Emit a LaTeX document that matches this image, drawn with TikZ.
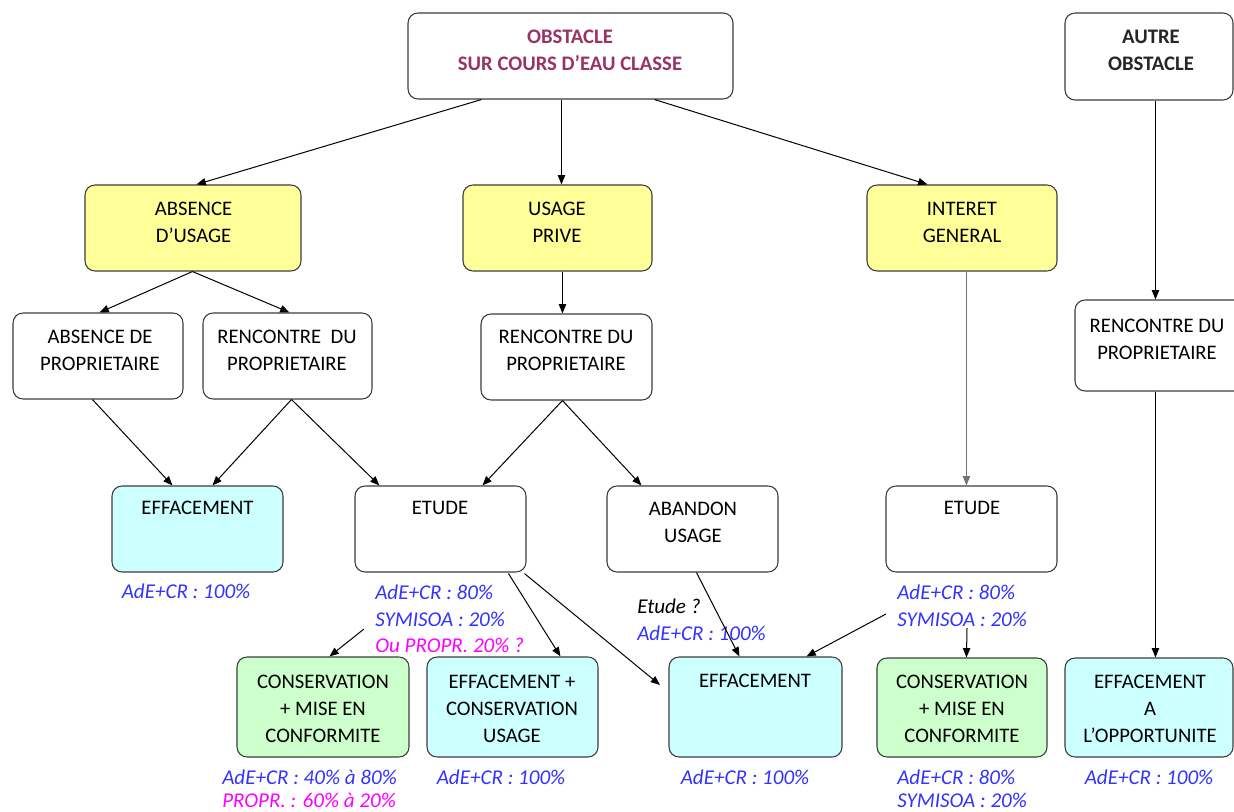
\documentclass[tikz,border=0pt]{standalone}
\usepackage{fontspec}
\setmainfont{Carlito}
\usetikzlibrary{arrows.meta,fit,calc}
\definecolor{yel}{RGB}{255,255,153}
\definecolor{cya}{RGB}{204,255,255}
\definecolor{gre}{RGB}{204,255,204}
\definecolor{purp}{RGB}{153,51,102}
\definecolor{lblue}{RGB}{51,51,255}
\definecolor{mag}{RGB}{255,0,255}
\definecolor{edge}{RGB}{60,60,60}
\newcommand\mybox[6]{\node[box,#6,fit={(#2,#3) (#4,#5)}] (#1) {};}
\begin{document}
\begin{tikzpicture}[x=0.75pt,y=-0.75pt,
  box/.style={draw=edge,line width=0.8pt,rounded corners=7.5pt,inner sep=0pt,minimum size=0pt},
  txt/.style={font=\fontsize{15.5}{20.3}\selectfont,align=center,inner sep=0pt,text=black},
  ttl/.style={txt,font=\fontsize{15.5}{20.3}\selectfont\bfseries},
  lbl/.style={font=\fontsize{15.8}{20.3}\selectfont\itshape,inner sep=0pt,text=lblue},
  arr/.style={draw=black,line width=0.75pt,-{Triangle[length=7pt,width=5.5pt]}}]
\useasboundingbox (0,0) rectangle (1234,812);
% boxes
\mybox{obs}{408}{13}{733}{99}{fill=white}
\mybox{autre}{1065}{13}{1233}{100}{fill=white}
\mybox{absu}{85}{185}{301}{271}{fill=yel}
\mybox{usp}{463}{185}{652}{271}{fill=yel}
\mybox{ig}{867}{185}{1057}{271}{fill=yel}
\mybox{absp}{13}{313}{183}{399}{fill=white}
\mybox{renl}{203}{313}{372}{399}{fill=white}
\mybox{renm}{481}{314}{652}{400}{fill=white}
\mybox{renr}{1075}{300}{1244}{391}{fill=white}
\mybox{effl}{112}{486}{283}{572}{fill=cya}
\mybox{etl}{355}{486}{526}{572}{fill=white}
\mybox{aband}{607}{486}{778}{572}{fill=white}
\mybox{etr}{886}{486}{1057}{572}{fill=white}
\mybox{consl}{237}{657}{409}{757}{fill=gre}
\mybox{effc}{427}{657}{598}{757}{fill=cya}
\mybox{effm}{669}{657}{842}{757}{fill=cya}
\mybox{consr}{877}{658}{1047}{757}{fill=gre}
\mybox{effo}{1065}{658}{1233}{757}{fill=cya}
% texts
\node[ttl,text=purp] (obst) at (570,50.5) {OBSTACLE\\SUR COURS D’EAU CLASSE};
\node[ttl,text=black!85] (autret) at (1151,50) {AUTRE\\OBSTACLE};
\node[txt] (absut) at (193.5,222) {ABSENCE\\D’USAGE};
\node[txt] (uspt) at (557,222) {USAGE\\PRIVE};
\node[txt] (igt) at (962,222) {INTERET\\GENERAL};
\node[txt] (abspt) at (100,350.5) {ABSENCE DE\\PROPRIETAIRE};
\node[txt] (renlt) at (287,350.5) {RENCONTRE~~DU\\PROPRIETAIRE};
\node[txt] (renmt) at (566,350.5) {RENCONTRE DU\\PROPRIETAIRE};
\node[txt] (renrt) at (1157,339) {RENCONTRE DU\\PROPRIETAIRE};
\node[txt] (efflt) at (197.5,508) {EFFACEMENT};
\node[txt] (etlt) at (440,508) {ETUDE};
\node[txt] (abandt) at (693,522) {ABANDON\\USAGE};
\node[txt] (etrt) at (972,508) {ETUDE};
\node[txt] (conslt) at (323,708.5) {CONSERVATION\\+ MISE EN\\CONFORMITE};
\node[txt] (effct) at (512,708.5) {EFFACEMENT +\\CONSERVATION\\USAGE};
\node[txt] (effmt) at (755,681) {EFFACEMENT};
\node[txt] (consrt) at (962,708.5) {CONSERVATION\\+ MISE EN\\CONFORMITE};
\node[txt] (effot) at (1150,708.5) {EFFACEMENT\\A\\L’OPPORTUNITE};
% labels
\node[lbl] (l1) at (186,591) {AdE+CR : 100\%};
\node[lbl,anchor=west] (l2) at (375,592) {AdE+CR : 80\%};
\node[lbl,anchor=west] (l3) at (375,619) {SYMISOA : 20\%};
\node[lbl,anchor=west,text=mag] (l4) at (375,645) {Ou PROPR. 20\% ?};
\node[lbl,anchor=west,text=black] (l5) at (637,606) {Etude ?};
\node[lbl,anchor=west] (l6) at (637,633) {AdE+CR : 100\%};
\node[lbl,anchor=west] (l7) at (897,592) {AdE+CR : 80\%};
\node[lbl,anchor=west] (l8) at (897,619) {SYMISOA : 20\%};
\node[lbl,anchor=west] (l9) at (222,777) {AdE+CR : 40\% à 80\%};
\node[lbl,anchor=west,text=mag] (l10) at (222,800) {PROPR. : 60\% à 20\%};
\node[lbl] (l11) at (501,777) {AdE+CR : 100\%};
\node[lbl] (l12) at (745,777) {AdE+CR : 100\%};
\node[lbl,anchor=west] (l13) at (897,777) {AdE+CR : 80\%};
\node[lbl,anchor=west] (l14) at (897,800) {SYMISOA : 20\%};
\node[lbl] (l15) at (1149,777) {AdE+CR : 100\%};
% free ends
\coordinate (c1) at (364,629);
\coordinate (c2) at (886,614);
\coordinate (c3) at (967,628);
\coordinate (c4) at (660,685);
% connectors
\draw[arr] ($(obs.south west)+(74,0)$) -- ($(absu.north west)+(112,0)$);
\draw[arr] ($(obs.south west)+(154,0)$) -- ($(usp.north west)+(99,0)$);
\draw[arr] ($(obs.south west)+(247,0)$) -- ($(ig.north west)+(61,0)$);
\draw[arr] ($(autre.south west)+(91,0)$) -- ($(renr.north west)+(81,0)$);
\draw[arr] ($(absu.south west)+(108,0)$) -- ($(absp.north west)+(87,0)$);
\draw[arr] ($(absu.south west)+(108,0)$) -- ($(renl.north west)+(87,0)$);
\draw[arr] ($(usp.south west)+(100,0)$) -- ($(renm.north west)+(82,0)$);
\draw[arr,draw=black!55] ($(ig.south west)+(100,0)$) -- ($(etr.north west)+(81,0)$);
\draw[arr] ($(absp.south west)+(80,0)$) -- ($(effl.north west)+(61,0)$);
\draw[arr] ($(renl.south west)+(89,0)$) -- ($(effl.north west)+(101,0)$);
\draw[arr] ($(renl.south west)+(89,0)$) -- ($(etl.north west)+(25,0)$);
\draw[arr] ($(renm.south west)+(82,0)$) -- ($(etl.north west)+(128,0)$);
\draw[arr] ($(renm.south west)+(82,0)$) -- ($(aband.north west)+(35,0)$);
\draw[arr] ($(etl.south west)+(154,1)$) -- ($(effc.north west)+(134,0)$);
\draw[arr] ($(etl.south west)+(170,1)$) -- (c4);
\draw[arr] (c1) -- ($(consl.north west)+(93,0)$);
\draw[arr] ($(aband.south west)+(90,0)$) -- ($(effm.north west)+(71,0)$);
\draw[arr] (c2) -- ($(effm.north west)+(138,0)$);
\draw[arr] (c3) -- ($(consr.north west)+(90,0)$);
\draw[arr] ($(renr.south west)+(81,0)$) -- ($(effo.north west)+(91,0)$);
\end{tikzpicture}
\end{document}
